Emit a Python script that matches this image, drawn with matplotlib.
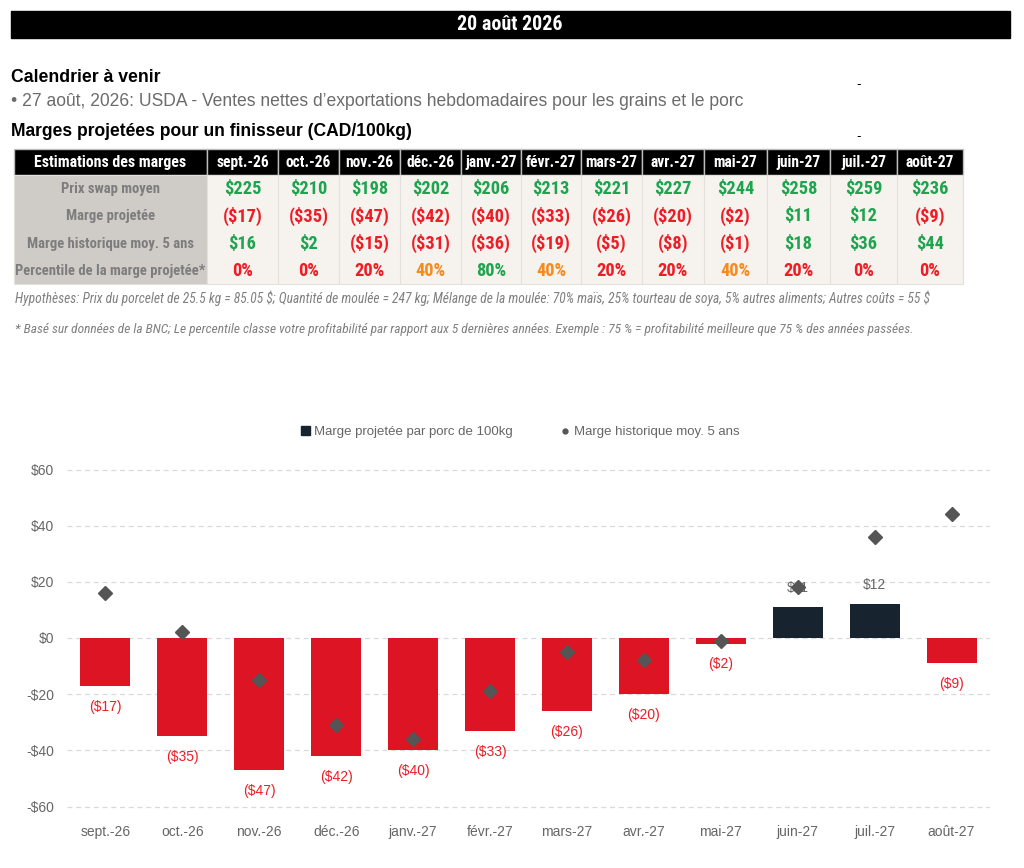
import matplotlib
matplotlib.use('Agg')
import matplotlib.pyplot as plt
from matplotlib import font_manager as fm
from matplotlib.patches import Rectangle
from matplotlib.lines import Line2D

plt.rcParams['text.parse_math'] = False

# données du tableau / graphique
months = ['sept.-26', 'oct.-26', 'nov.-26', 'déc.-26', 'janv.-27', 'févr.-27',
          'mars-27', 'avr.-27', 'mai-27', 'juin-27', 'juil.-27', 'août-27']
swap_price = [225, 210, 198, 202, 206, 213, 221, 227, 244, 258, 259, 236]
proj_margin = [-17, -35, -47, -42, -40, -33, -26, -20, -2, 11, 12, -9]
hist_margin = [16, 2, -15, -31, -36, -19, -5, -8, -1, 18, 36, 44]
percentile = [0, 0, 20, 40, 80, 40, 20, 20, 40, 20, 0, 0]
row_labels = ['Prix swap moyen', 'Marge projetée',
              'Marge historique moy. 5 ans', 'Percentile de la marge projetée*']
y_ticks = [-60, -40, -20, 0, 20, 40, 60]

names = {f.name for f in fm.fontManager.ttflist}
SANS = 'Liberation Sans' if 'Liberation Sans' in names else 'DejaVu Sans'


def find_condensed():
    for n in ['Roboto Condensed', 'Open Sans Condensed', 'Noto Sans Condensed',
              'Liberation Sans Narrow', 'Arial Narrow', 'DejaVu Sans Condensed']:
        if n in names:
            return n, 'normal'
    for f in fm.fontManager.ttflist:
        if 'condensed' in str(f.stretch).lower() and f.name in ('DejaVu Sans', 'Noto Sans', 'Open Sans', 'Roboto'):
            return f.name, 'condensed'
    return SANS, 'normal'


NARROW, STRETCH = find_condensed()

GREEN = '#1ea34e'
RED = '#ee1c25'
ORANGE = '#f58a1f'
BAR_RED = '#dc1423'
NAVY = '#17242f'
GREY_TXT = '#6b6b6b'


def money(v):
    return f'${v}' if v >= 0 else f'(${-v})'


def money_color(v):
    return GREEN if v >= 0 else RED


def pct_color(p):
    if p >= 60:
        return GREEN
    if p >= 40:
        return ORANGE
    return RED


fig = plt.figure(figsize=(10.24, 8.68), dpi=100)
renderer = fig.canvas.get_renderer()


def fit_size(txt, target_px, **kw):
    # taille de police pour que le texte ait la largeur voulue
    t = fig.text(0, 0, txt, fontsize=10, **kw)
    w = t.get_window_extent(renderer).width
    t.remove()
    return 10 * target_px / w


cond = dict(family=NARROW, fontstretch=STRETCH, weight='bold')

# calque en pixels pour l'en-tête et le tableau
top = fig.add_axes([0, 0, 1, 1])
top.set_xlim(0, 1024)
top.set_ylim(868, 0)
top.axis('off')

top.add_patch(Rectangle((11, 11), 999, 27, color='black'))
top.text(510, 25, '20 août 2026', color='white', fontsize=fit_size('20 août 2026', 105, **cond),
         ha='center', va='center', **cond)

calendar_title = 'Calendrier à venir'
calendar_line = '• 27 août, 2026: USDA - Ventes nettes d’exportations hebdomadaires pour les grains et le porc'
table_title = 'Marges projetées pour un finisseur (CAD/100kg)'
top.text(11, 78, calendar_title, fontsize=fit_size(calendar_title, 150, family=SANS, weight='bold'),
         weight='bold', family=SANS, va='center')
top.text(11, 102, calendar_line, fontsize=fit_size(calendar_line, 738, family=SANS),
         color=GREY_TXT, family=SANS, va='center')
top.text(11, 131, table_title, fontsize=fit_size(table_title, 403, family=SANS, weight='bold'),
         weight='bold', family=SANS, va='center')
top.text(859, 85, '-', fontsize=9, ha='center', va='center')
top.text(859, 137, '-', fontsize=9, ha='center', va='center')

# tableau
col_edges = [14, 207, 278, 339, 400, 461, 521, 581, 642, 704, 767, 830, 897, 963]
head_top, head_bot, body_bot = 149, 175, 284
row_h = (body_bot - head_bot) / 4

label_fs = fit_size(row_labels[3], 191, **cond)
month_fs = fit_size(months[0], 53, **cond)
value_fs = fit_size('$225', 37, **cond)

headers = ['Estimations des marges'] + months
for j in range(len(col_edges) - 1):
    x0, x1 = col_edges[j], col_edges[j + 1]
    top.add_patch(Rectangle((x0, head_top), x1 - x0, head_bot - head_top,
                            facecolor='black', edgecolor='#bdbdbd', lw=1))
    top.text((x0 + x1) / 2, (head_top + head_bot) / 2 + 0.5, headers[j], color='white',
             fontsize=label_fs * 1.08 if j == 0 else month_fs, ha='center', va='center', **cond)
    top.add_patch(Rectangle((x0, head_bot), x1 - x0, body_bot - head_bot,
                            facecolor='#cfccc8' if j == 0 else '#f6f3ef',
                            edgecolor='#e4e0db', lw=0.8))

rows = [
    [(money(v), GREEN) for v in swap_price],
    [(money(v), money_color(v)) for v in proj_margin],
    [(money(v), money_color(v)) for v in hist_margin],
    [(f'{p}%', pct_color(p)) for p in percentile],
]
for i, lab in enumerate(row_labels):
    yc = head_bot + row_h * (i + 0.5) + 0.5
    top.text((col_edges[0] + col_edges[1]) / 2, yc, lab, color='#7d7d7d', fontsize=label_fs,
             ha='center', va='center', **cond)
    for j, (txt, c) in enumerate(rows[i]):
        xc = (col_edges[j + 1] + col_edges[j + 2]) / 2
        top.text(xc, yc, txt, color=c, fontsize=value_fs, ha='center', va='center', **cond)

hyp = ('Hypothèses: Prix du porcelet de 25.5 kg = 85.05 $; Quantité de moulée = 247 kg; '
       'Mélange de la moulée: 70% maïs, 25% tourteau de soya, 5% autres aliments; Autres coûts = 55 $')
note = ('* Basé sur données de la BNC; Le percentile classe votre profitabilité par rapport aux '
        '5 dernières années. Exemple : 75 % = profitabilité meilleure que 75 % des années passées.')
note_kw = dict(family=NARROW, fontstretch=STRETCH, weight='normal', style='italic')
top.text(15, 298, hyp, fontsize=fit_size(hyp, 910, **note_kw), color='#7f7f7f', va='center', **note_kw)
top.text(15, 329, note, fontsize=fit_size(note, 893, **note_kw), color='#7f7f7f', va='center', **note_kw)

# graphique
px_unit = (806 - 469) / 120
y_lo, y_hi = -61, 61
ax_top = 638 - y_hi * px_unit
ax_bot = 638 - y_lo * px_unit
ax = fig.add_axes([67 / 1024, (868 - ax_bot) / 868, (990 - 67) / 1024, (ax_bot - ax_top) / 868])
x = list(range(len(months)))
ax.bar(x, proj_margin, width=0.65, color=[BAR_RED if v < 0 else NAVY for v in proj_margin], zorder=2)
ax.plot(x, hist_margin, 'D', color='#555555', ms=7, zorder=4)

for i, v in enumerate(proj_margin):
    if v < 0:
        ax.annotate(money(v), (i, v), xytext=(0, -15), textcoords='offset points',
                    ha='center', va='center', color=RED, fontsize=10, family=SANS)
    else:
        ax.annotate(money(v), (i, v), xytext=(0, 14), textcoords='offset points',
                    ha='center', va='center', color='#666666', fontsize=10, family=SANS, zorder=3)

ax.set_xlim(-0.5, len(months) - 0.5)
ax.set_ylim(y_lo, y_hi)
ax.set_yticks(y_ticks)
ax.set_yticklabels([f'${t}' if t >= 0 else f'-${-t}' for t in y_ticks])
ax.set_xticks(x)
ax.set_xticklabels(months)
ax.yaxis.grid(True, ls=(0, (4, 3)), color='#d9d9d9', lw=0.9)
ax.set_axisbelow(True)
for s in ax.spines.values():
    s.set_visible(False)
ax.tick_params(length=0, labelsize=10, labelcolor='#666666')
ax.tick_params(axis='y', pad=9)
ax.tick_params(axis='x', pad=11)
for t in ax.get_xticklabels() + ax.get_yticklabels():
    t.set_family(SANS)

handles = [Rectangle((0, 0), 1, 1, color=NAVY),
           Line2D([], [], marker='o', ls='', color='#555555', ms=3.5)]
fig.legend(handles, ['Marge projetée par porc de 100kg', 'Marge historique moy. 5 ans'],
           loc='center', bbox_to_anchor=(520 / 1024, 1 - 432 / 868), ncol=2, frameon=False,
           prop={'family': SANS, 'size': 9.5}, labelcolor='#666666', handlelength=0.7,
           handleheight=0.7, handletextpad=0.3, columnspacing=3.6)

fig.savefig('out.png', dpi=100)
